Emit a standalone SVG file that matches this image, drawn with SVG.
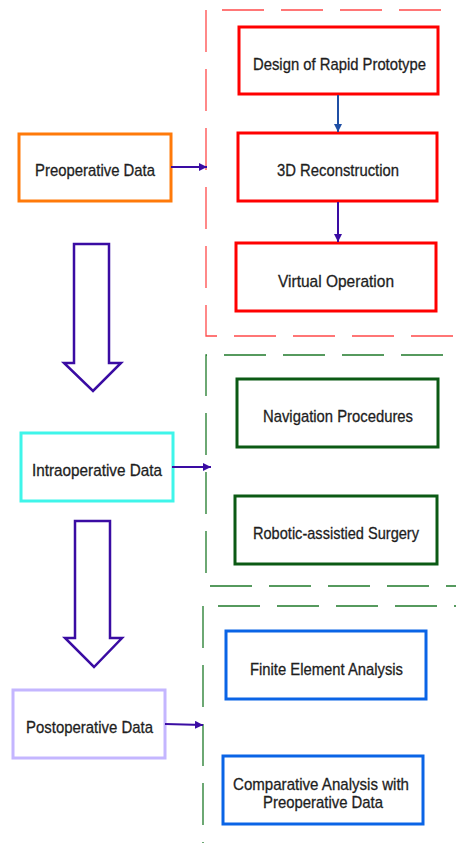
<svg xmlns="http://www.w3.org/2000/svg" width="456" height="843" viewBox="0 0 456 843">
  <style>
    .lbl { font-family: "Liberation Sans", Arial, sans-serif; font-size: 17px; fill: #1e1e1e; stroke: #1e1e1e; stroke-width: 0.3; text-anchor: middle; }
    .box { fill: #fff; stroke-width: 3; }
    .red { stroke: #ff0000; }
    .dgreen { stroke: #0b5a14; }
    .blue { stroke: #0a64e6; }
    .frame { fill: none; stroke-width: 1.3; stroke-dasharray: 42 17; }
    .frame-red { stroke: #ff4a4a; }
    .frame-green { stroke: #1f7a2a; }
    .conn { fill: none; stroke: #3a0ca3; stroke-width: 2; }
    .big { fill: #fff; stroke: #3a0ca3; stroke-width: 2.5; stroke-linejoin: miter; }
  </style>
  <defs>
    <marker id="head" viewBox="0 0 10 10" refX="10" refY="5" markerWidth="4" markerHeight="4" orient="auto" markerUnits="strokeWidth">
      <path d="M0,0 L10,5 L0,10 Z" fill="#3a0ca3"/>
    </marker>
    <marker id="headBlue" viewBox="0 0 10 10" refX="10" refY="5" markerWidth="4" markerHeight="4" orient="auto" markerUnits="strokeWidth">
      <path d="M0,0 L10,5 L0,10 Z" fill="#1f4fa5"/>
    </marker>
  </defs>

  <rect width="456" height="843" fill="#fff"/>

  <!-- dashed stage frames -->
  <g id="frames">
    <path class="frame frame-red" d="M222,10 H456"/>
    <path class="frame frame-red" d="M206,10 V336 H456"/>
    <path class="frame frame-green" d="M206,573 V355 H456"/>
    <path class="frame frame-green" d="M210,586 H456"/>
    <path class="frame frame-green" d="M218,606 H456"/>
    <path class="frame frame-green" d="M203,606 V843"/>
  </g>

  <!-- stage nodes -->
  <g id="preoperative">
    <rect class="box" x="19" y="134" width="152" height="67" stroke="#ff7a0a"/>
    <text class="lbl" x="95" y="176" textLength="120" lengthAdjust="spacingAndGlyphs">Preoperative Data</text>
  </g>
  <g id="intraoperative">
    <rect class="box" x="21" y="433" width="152" height="68" stroke="#3ff5ea"/>
    <text class="lbl" x="97" y="476" textLength="130" lengthAdjust="spacingAndGlyphs">Intraoperative Data</text>
  </g>
  <g id="postoperative">
    <rect class="box" x="13" y="690" width="152" height="68" stroke="#c4b6ff"/>
    <text class="lbl" x="89.5" y="733" textLength="127" lengthAdjust="spacingAndGlyphs">Postoperative Data</text>
  </g>

  <!-- preoperative steps -->
  <g id="rapid-prototype">
    <rect class="box red" x="239" y="27" width="199" height="67"/>
    <text class="lbl" x="339.5" y="70" textLength="173" lengthAdjust="spacingAndGlyphs">Design of Rapid Prototype</text>
  </g>
  <g id="reconstruction">
    <rect class="box red" x="238" y="133" width="199" height="68"/>
    <text class="lbl" x="338" y="176" textLength="122" lengthAdjust="spacingAndGlyphs">3D Reconstruction</text>
  </g>
  <g id="virtual-operation">
    <rect class="box red" x="236" y="243" width="200" height="68"/>
    <text class="lbl" x="336" y="287" textLength="116" lengthAdjust="spacingAndGlyphs">Virtual Operation</text>
  </g>

  <!-- intraoperative steps -->
  <g id="navigation">
    <rect class="box dgreen" x="237" y="379" width="201" height="68"/>
    <text class="lbl" x="338" y="422" textLength="150" lengthAdjust="spacingAndGlyphs">Navigation Procedures</text>
  </g>
  <g id="robotic">
    <rect class="box dgreen" x="235" y="496" width="202" height="68"/>
    <text class="lbl" x="336" y="539" textLength="166" lengthAdjust="spacingAndGlyphs">Robotic-assistied Surgery</text>
  </g>

  <!-- postoperative steps -->
  <g id="fea">
    <rect class="box blue" x="226" y="631" width="200" height="68"/>
    <text class="lbl" x="326.5" y="675" textLength="153" lengthAdjust="spacingAndGlyphs">Finite Element Analysis</text>
  </g>
  <g id="comparative">
    <rect class="box blue" x="223" y="756" width="200" height="68"/>
    <text class="lbl" x="321" y="790" textLength="176" lengthAdjust="spacingAndGlyphs">Comparative Analysis with</text>
    <text class="lbl" x="323" y="808" textLength="120" lengthAdjust="spacingAndGlyphs">Preoperative Data</text>
  </g>

  <!-- connectors -->
  <g id="connectors">
    <line x1="338" y1="95" x2="338" y2="132" stroke="#1f4fa5" stroke-width="2" marker-end="url(#headBlue)"/>
    <line class="conn" x1="338" y1="202" x2="338" y2="242" marker-end="url(#head)"/>
    <line class="conn" x1="171" y1="167" x2="207" y2="167" marker-end="url(#head)"/>
    <line class="conn" x1="172" y1="467" x2="211" y2="467" marker-end="url(#head)"/>
    <line class="conn" x1="165" y1="724" x2="203" y2="725" marker-end="url(#head)"/>
    <polygon class="big" points="74,244 109,244 109,363 121,363 93,391 64,363 74,363"/>
    <polygon class="big" points="75,521 110,521 110,638 122,638 94,667 65,638 75,638"/>
  </g>
</svg>
